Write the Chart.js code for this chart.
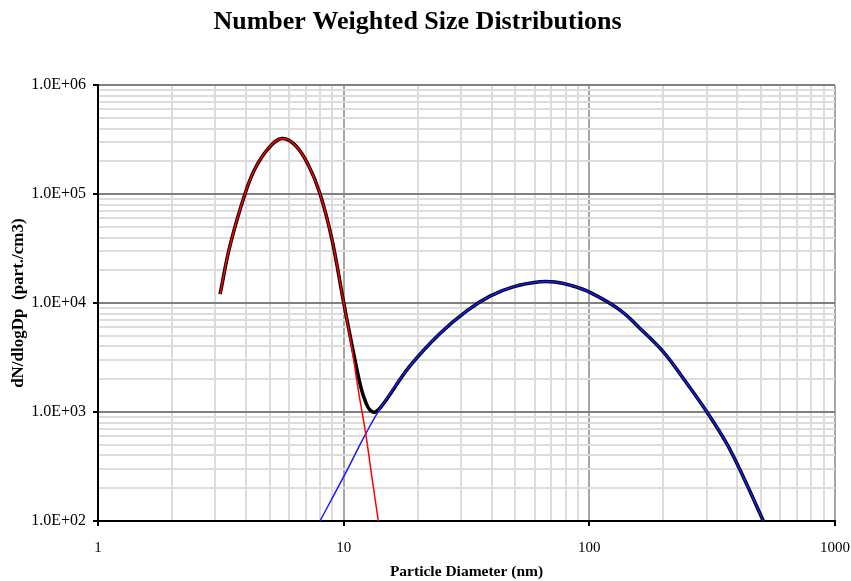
<!DOCTYPE html>
<html>
<head>
<meta charset="utf-8">
<script src="https://cdn.jsdelivr.net/npm/chart.js@4.4.1/dist/chart.umd.min.js"></script>
<style>
  body { margin: 0; background: #fff; }
  #wrap { width: 851px; height: 581px; }
</style>
</head>
<body>
<div id="wrap"><canvas id="sizeChart" width="851" height="581"></canvas></div>
<script>
// measured total distribution (black)
const sizeTotal = [3.14, 3.45, 3.97, 4.36, 4.93, 5.60, 6.34, 7.18, 8.01, 8.94, 9.97, 10.61, 11.23, 11.77, 12.33, 12.80, 13.41, 14.28, 18.62, 24.66, 31.7, 39.4, 49.0, 63.0, 72.5, 83.4, 100.6, 133.3, 160.8, 200, 241, 300.5, 362, 423, 511];
const countTotal = [12100, 34000, 101500, 172000, 262000, 324000, 282000, 185000, 101000, 39300, 10500, 5080, 2700, 1660, 1210, 1042, 1000, 1135, 2650, 5270, 8500, 11600, 14100, 15670, 15600, 14620, 12530, 8630, 5860, 3570, 2040, 1007, 516, 255, 100];

// mode 1 fit (red)
const sizeMode1 = [3.14, 3.45, 3.97, 4.36, 4.93, 5.60, 6.34, 7.18, 8.01, 8.94, 9.97, 10.78, 11.47, 12.29, 13.08, 13.84];
const countMode1 = [12100, 34000, 101500, 172000, 262000, 324000, 282000, 185000, 101000, 39300, 10500, 3970, 1590, 637, 238, 100];

// mode 2 fit (blue)
const sizeMode2 = [8.01, 10.0, 12.29, 14.28, 18.62, 24.66, 31.7, 39.4, 49.0, 63.0, 72.5, 83.4, 100.6, 133.3, 160.8, 200, 241, 300.5, 362, 423, 511];
const countMode2 = [100, 255, 630, 1135, 2650, 5270, 8500, 11600, 14100, 15670, 15600, 14620, 12530, 8630, 5860, 3570, 2040, 1007, 516, 255, 100];

const xDecades = [1, 10, 100, 1000];
const xDecadeLabels = ["1", "10", "100", "1000"];
const yDecades = [100, 1000, 10000, 100000, 1000000];
const yDecadeLabels = ["1.0E+02", "1.0E+03", "1.0E+04", "1.0E+05", "1.0E+06"];

function logTicks(decades) {
  const out = [];
  for (let i = 0; i < decades.length - 1; i++) {
    for (let k = 1; k < 10; k++) out.push(k * decades[i]);
  }
  out.push(decades[decades.length - 1]);
  return out;
}
const isDecade = (v) => Math.abs(Math.log10(v) - Math.round(Math.log10(v))) < 1e-9;
const pts = (xs, ys) => xs.map((x, i) => ({ x: x, y: ys[i] }));

const serif = "'Liberation Serif', 'Times New Roman', serif";

const ctx = document.getElementById("sizeChart").getContext("2d");
new Chart(ctx, {
  type: "line",
  data: {
    datasets: [
      {
        label: "Mode 1",
        data: pts(sizeMode1, countMode1),
        borderColor: "#ff0000",
        borderWidth: 1.5,
        pointRadius: 0,
        tension: 0.4,
        fill: false,
      },
      {
        label: "Mode 2",
        data: pts(sizeMode2, countMode2),
        borderColor: "#1a1aff",
        borderWidth: 1.5,
        pointRadius: 0,
        tension: 0.4,
        fill: false,
      },
      {
        label: "Total",
        data: pts(sizeTotal, countTotal),
        borderColor: "#000000",
        borderWidth: 3.5,
        pointRadius: 0,
        tension: 0.4,
        fill: false,
      },
    ],
  },
  options: {
    responsive: false,
    animation: false,
    layout: { padding: { left: 0, right: 16, top: 0, bottom: 0 } },
    plugins: {
      legend: { display: false },
      tooltip: { enabled: false },
      title: {
        display: true,
        text: "Number Weighted Size Distributions",
        color: "#000",
        font: { family: serif, size: 26, weight: "bold" },
        padding: { top: 7, bottom: 47 },
      },
    },
    scales: {
      x: {
        type: "logarithmic",
        min: 1,
        max: 1000,
        afterBuildTicks: (s) => { s.ticks = logTicks(xDecades).map((v) => ({ value: v })); },
        afterFit: (s) => { s.height = 60; s.paddingRight = 0; s.paddingLeft = 0; },
        ticks: {
          autoSkip: false,
          maxRotation: 0,
          padding: 13,
          color: "#000",
          font: { family: serif, size: 15 },
          callback: (v) => {
            const i = xDecades.indexOf(v);
            return i >= 0 ? xDecadeLabels[i] : "";
          },
        },
        grid: {
          color: (c) => (c.tick && isDecade(c.tick.value) ? "#a6a6a6" : "#dcdcdc"),
          lineWidth: 2,
          tickLength: 5,
          tickColor: (c) => (c.tick && isDecade(c.tick.value) ? "#000" : "rgba(0,0,0,0)"),
        },
        border: { color: "#000", width: 2 },
        title: {
          display: true,
          text: "Particle Diameter (nm)",
          color: "#000",
          font: { family: serif, size: 15.5, weight: "bold" },
          padding: { top: 0, bottom: 0 },
        },
      },
      y: {
        type: "logarithmic",
        min: 100,
        max: 1000000,
        afterBuildTicks: (s) => { s.ticks = logTicks(yDecades).map((v) => ({ value: v })); },
        afterFit: (s) => { s.width = 98; },
        ticks: {
          autoSkip: false,
          padding: 7,
          color: "#000",
          font: { family: serif, size: 16 },
          callback: (v) => {
            const i = yDecades.indexOf(v);
            return i >= 0 ? yDecadeLabels[i] : "";
          },
        },
        grid: {
          color: (c) => (c.tick && isDecade(c.tick.value) ? "#808080" : "#dcdcdc"),
          lineWidth: 2,
          tickLength: 5,
          tickColor: (c) => (c.tick && isDecade(c.tick.value) ? "#000" : "rgba(0,0,0,0)"),
        },
        border: { color: "#000", width: 2 },
        title: {
          display: true,
          text: "dN/dlogDp  (part./cm3)",
          color: "#000",
          font: { family: serif, size: 17, weight: "bold" },
          padding: { top: 8, bottom: 0 },
        },
      },
    },
  },
});
</script>
</body>
</html>
